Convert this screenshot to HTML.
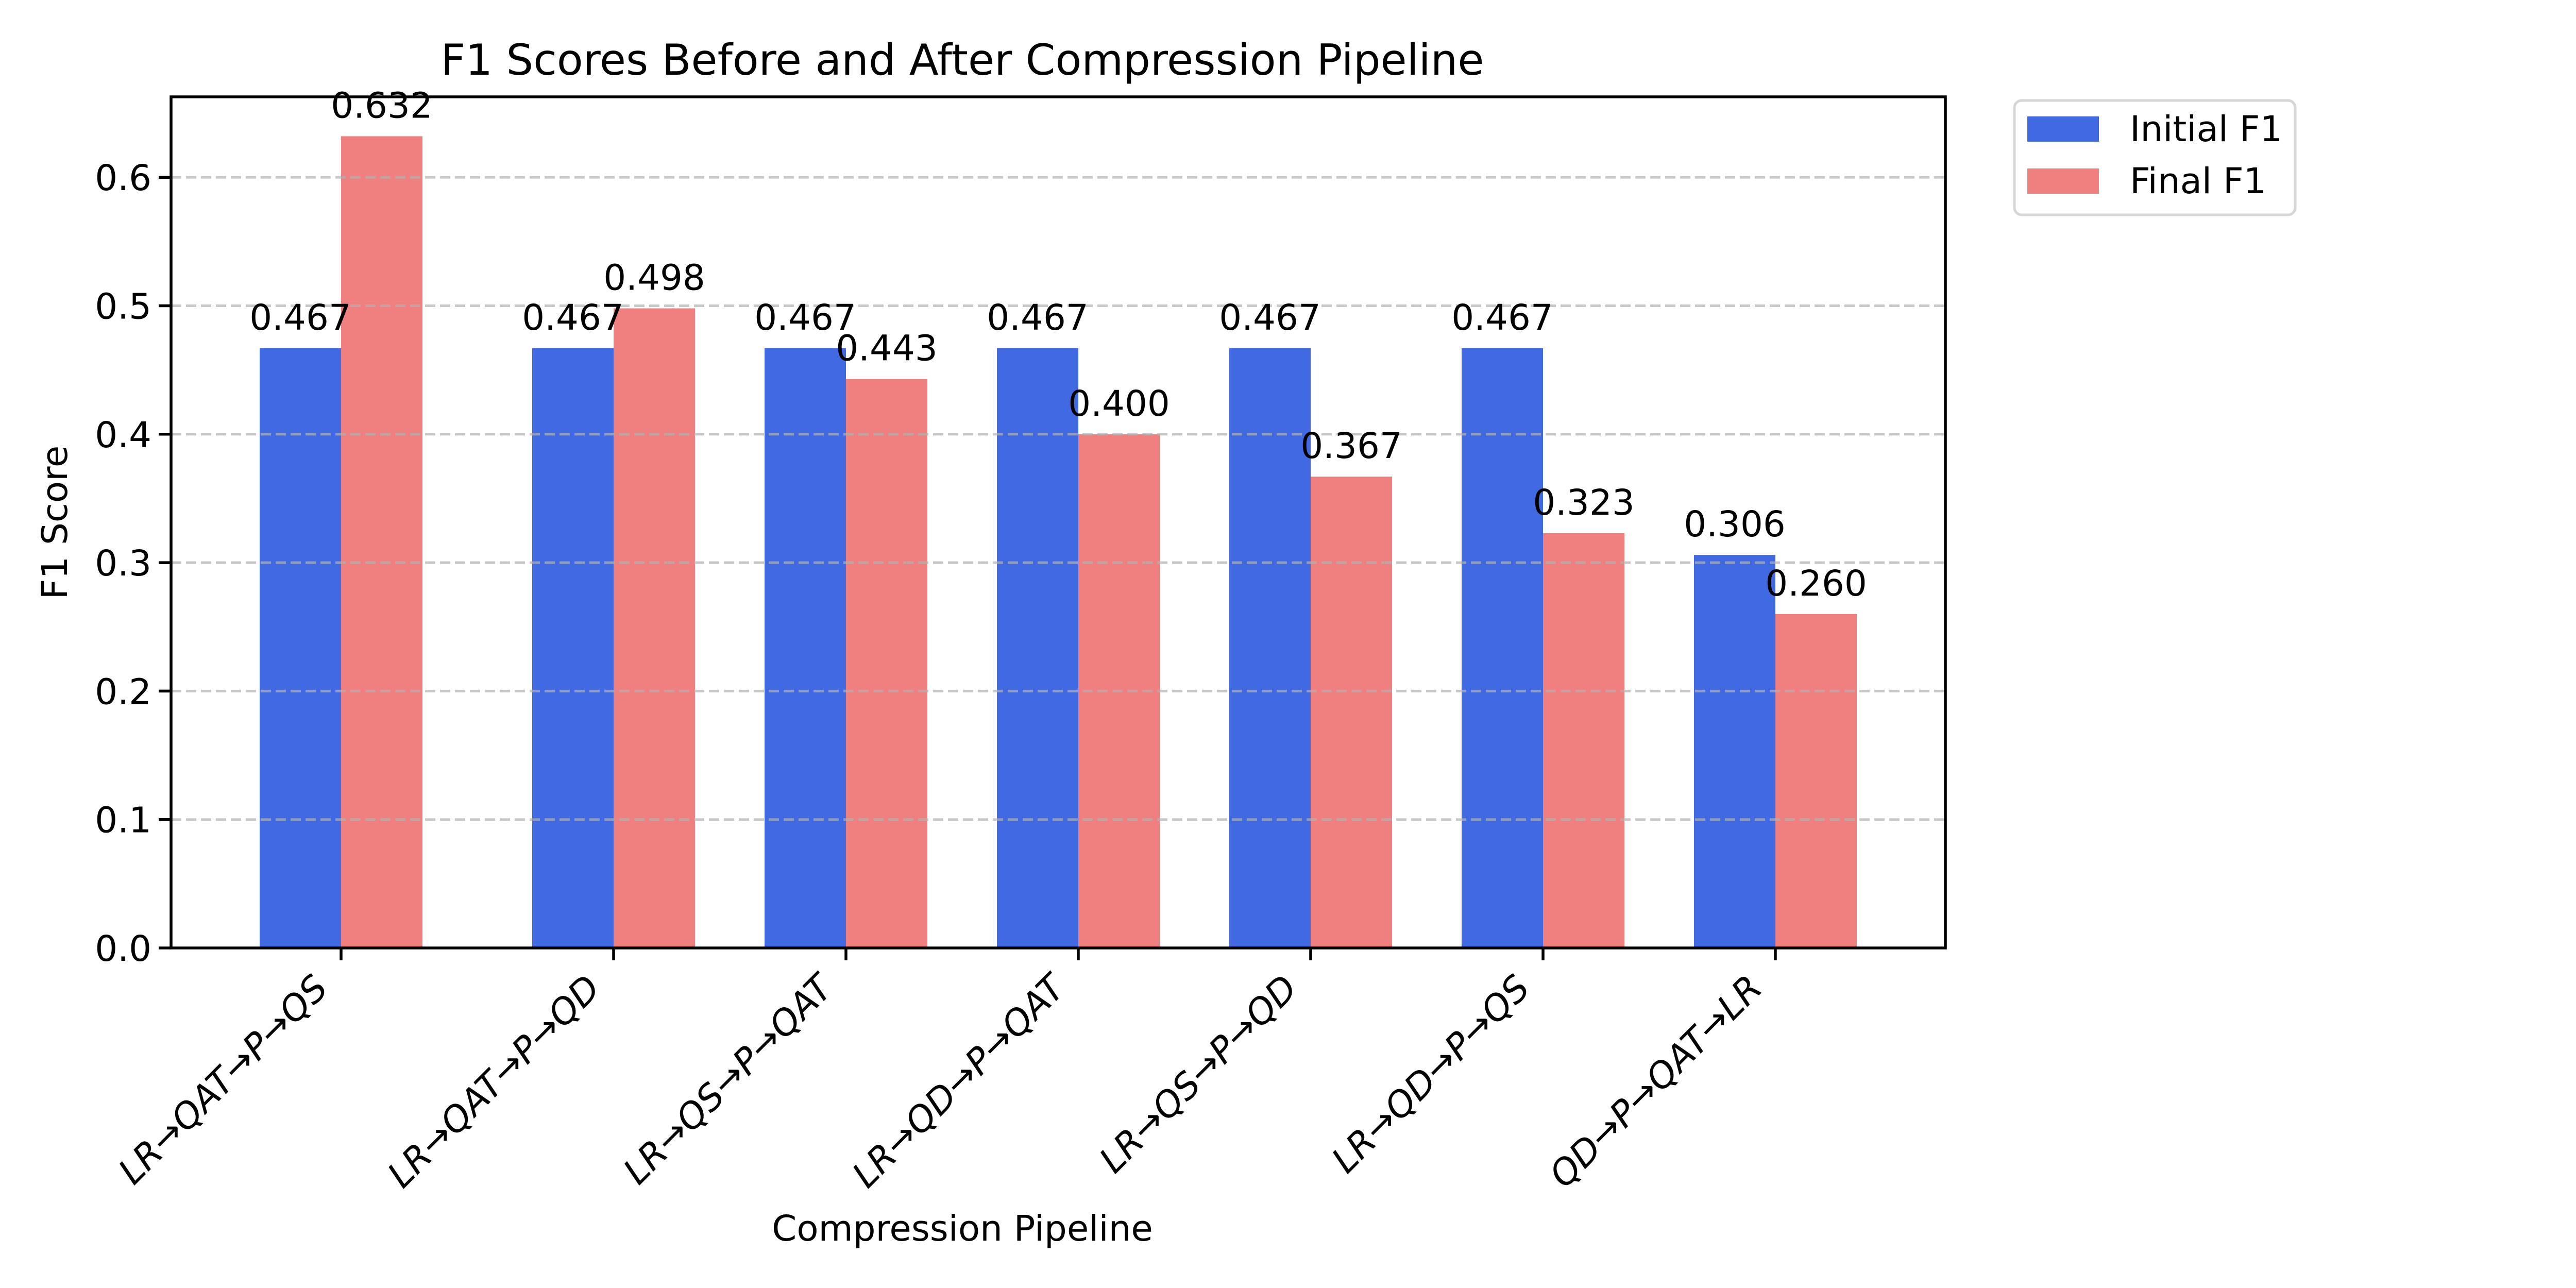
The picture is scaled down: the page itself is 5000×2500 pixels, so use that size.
<!DOCTYPE html>
<html><head><meta charset="utf-8">
<style>
html,body{margin:0;padding:0;background:#fff;}
svg{display:block;font-family:"DejaVu Sans","Liberation Sans",sans-serif;}
</style></head>
<body>
<svg id="chart" width="5000" height="2500" viewBox="0 0 5000 2500" xmlns="http://www.w3.org/2000/svg">
<rect x="0" y="0" width="5000" height="2500" fill="#fff"/>
<text x="1868" y="145" font-size="83" text-anchor="middle">F1 Scores Before and After Compression Pipeline</text>
<text x="1868" y="2408" font-size="69" text-anchor="middle">Compression Pipeline</text>
<text transform="translate(130,1014) rotate(-90)" font-size="69" text-anchor="middle">F1 Score</text>
<g id="grid"></g>
<g id="bars"></g>
<g id="gridtop"></g>
<g id="labels"></g>
<g id="axes"></g>
<g>
<rect x="3910" y="195" width="545" height="222" rx="14" fill="#fff" stroke="#d6d6d6" stroke-width="5"/>
<rect x="3935" y="226" width="139" height="49" fill="#4169e1"/>
<text x="4134" y="274" font-size="69">Initial F1</text>
<rect x="3935" y="327" width="139" height="49" fill="#f08080"/>
<text x="4134" y="375" font-size="69">Final F1</text>
</g>
</svg>
<script>
const categories = ["LR→QAT→P→QS","LR→QAT→P→QD","LR→QS→P→QAT","LR→QD→P→QAT","LR→QS→P→QD","LR→QD→P→QS","QD→P→QAT→LR"];
const initialF1 = [0.467,0.467,0.467,0.467,0.467,0.467,0.306];
const finalF1 = [0.632,0.498,0.443,0.400,0.367,0.323,0.260];
const yTicks = [0.0,0.1,0.2,0.3,0.4,0.5,0.6];
const yTickLabels = ["0.0","0.1","0.2","0.3","0.4","0.5","0.6"];

const NS = "http://www.w3.org/2000/svg";
const L = 332, R = 3776, T = 188, B = 1840;
const yMax = (B - T) / 2493;
function y(v){ return B - v / yMax * (B - T); }
function xc(i){ return i === 0 ? 662 : 1191 + (i - 1) * 451; }
const bw = 158;
function mk(tag, attrs, parent){ const e = document.createElementNS(NS, tag); for (const k in attrs) e.setAttribute(k, attrs[k]); parent.appendChild(e); return e; }

const grid = document.getElementById('gridtop');
const bars = document.getElementById('bars');
const labels = document.getElementById('labels');
const axes = document.getElementById('axes');

yTicks.forEach((v, i) => {
  if (v > 0) {
    const g = mk('line', {x1:L, x2:R, y1:y(v), y2:y(v), stroke:'#b0b0b0', 'stroke-opacity':0.7, 'stroke-width':5, 'stroke-dasharray':'20,9'}, grid);
    
    
  }
  const tk = mk('line', {x1:L-24, x2:L, y1:y(v), y2:y(v), stroke:'#000', 'stroke-width':5.5}, axes);
  
  
  const t = mk('text', {x:L-38, y:y(v)+25, 'font-size':69, 'text-anchor':'end'}, axes);
  t.textContent = yTickLabels[i];
  
  
});

categories.forEach((c, i) => {
  const cx = xc(i);
  const b1 = mk('rect', {x:cx-bw, y:y(initialF1[i]), width:bw, height:B-y(initialF1[i]), fill:'#4169e1'}, bars);
  
  
  const b2 = mk('rect', {x:cx, y:y(finalF1[i]), width:bw, height:B-y(finalF1[i]), fill:'#f08080'}, bars);
  
  
  const l1 = mk('text', {x:cx-bw/2, y:y(initialF1[i])-36, 'font-size':69, 'text-anchor':'middle'}, labels);
  l1.textContent = initialF1[i].toFixed(3);
  
  
  const l2 = mk('text', {x:cx+bw/2, y:y(finalF1[i])-36, 'font-size':69, 'text-anchor':'middle'}, labels);
  l2.textContent = finalF1[i].toFixed(3);
  
  
  const tk = mk('line', {x1:cx, x2:cx, y1:B, y2:B+24, stroke:'#000', 'stroke-width':5.5}, axes);
  
  
  const tl = mk('text', {transform:'translate(' + (cx-22) + ',' + (B+82) + ') rotate(-45)', 'font-size':69, 'font-style':'italic', 'text-anchor':'end'}, axes);
  tl.textContent = c;
  
  
});

const frame = mk('rect', {x:L, y:T, width:R-L, height:B-T, fill:'none', stroke:'#000', 'stroke-width':5.5}, axes);


</script>
</body></html>
